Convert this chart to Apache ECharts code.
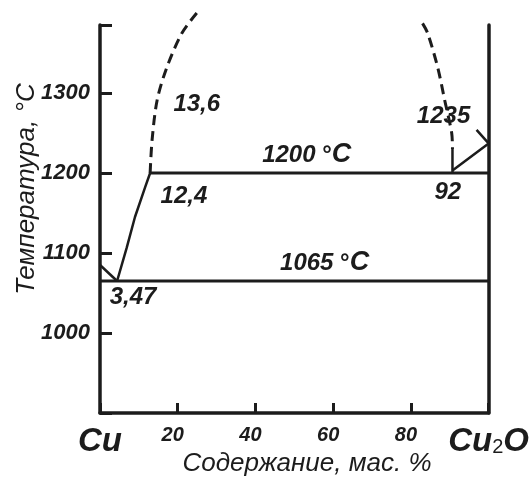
<!DOCTYPE html>
<html>
<head>
<meta charset="utf-8">
<script src="https://cdn.jsdelivr.net/npm/echarts@6/dist/echarts.min.js"></script>
<style>html,body{margin:0;padding:0;background:#fff}#c{width:532px;height:482px}</style>
</head>
<body>
<div id="c"></div>
<script>
// ---- data (x: mass % Cu2O, y: temperature, °C) ----
const xTickValues = [0, 20, 40, 60, 80, 100];
const yTickValues = [1000, 1100, 1200, 1300];
const xEndLabels = { 0: 'Cu', 100: 'Cu2O' };

const monotecticLine = [[12.9, 1200], [100, 1200]];
const eutecticLine = [[0, 1065], [100, 1065]];
const cuMeltLine = [[0, 1085], [4.4, 1065]];
const leftLiquidus = [[4.4, 1065], [6.9, 1107], [9.0, 1145], [11.6, 1182], [12.9, 1200]];
const leftMiscibility = [[12.9, 1200], [13.4, 1241], [14.7, 1291], [17.2, 1332], [21.1, 1375], [24.9, 1400]];
const rightMiscibility = [[83.0, 1387], [84.3, 1375], [86.9, 1332], [88.7, 1291], [90.5, 1250], [90.7, 1230]];
const rightSolidPart = [[90.7, 1230], [90.7, 1200]];
const cu2oMeltLine = [[90.7, 1203], [100, 1237], [96.9, 1254]];

const annotationTexts = ['13,6', '12,4', '1200 °C', '1235', '92', '1065 °C', '3,47'];
const annotationX = [24.9, 21.6, 53.2, 88.4, 89.5, 57.8, 8.5];
const annotationY = [1286, 1171, 1222.5, 1271, 1176, 1087.5, 1044];

// ---- chart ----
const FONT = "'Liberation Sans', Arial, sans-serif";
const INK = '#1c1c1c';
const chart = echarts.init(document.getElementById('c'));

function lineSeries(name, data, dashed, width) {
  return {
    name, type: 'line', data, symbol: 'none', clip: false, silent: true,
    smooth: dashed ? 0.3 : false,
    lineStyle: { color: INK, width: width || 2.5, type: dashed ? [10, 6] : 'solid' }
  };
}

function fmtAnnot(t) {
  if (t.indexOf('°') >= 0) {
    const p = t.split(' °');
    return '{t|' + p[0] + ' }{d|°}{c|' + p[1] + '}';
  }
  return '{t|' + t + '}';
}

const annotData = annotationTexts.map((t, i) => ({ value: [annotationX[i], annotationY[i]], label: { formatter: fmtAnnot(t) } }));

chart.setOption({
  animation: false,
  backgroundColor: '#fff',
  grid: { left: 100, right: 43, top: 25, bottom: 69 },
  xAxis: {
    type: 'value', min: 0, max: 100, interval: 20,
    axisLine: { lineStyle: { color: INK, width: 3.5 } },
    axisTick: { inside: true, length: 10, lineStyle: { color: INK, width: 3 } },
    splitLine: { show: false },
    axisLabel: {
      margin: 12,
      formatter: v => {
        if (v === 0) return '{big|' + xEndLabels[0] + '}';
        if (v === 100) return '{big|Cu}{sub|2}{big|O}';
        return '{n|' + v + '}';
      },
      rich: {
        n: { fontFamily: FONT, fontSize: 20, fontStyle: 'italic', fontWeight: 'bold', color: INK, padding: [0, 10, 0, 0] },
        big: { fontFamily: FONT, fontSize: 33, fontStyle: 'italic', fontWeight: 'bold', color: INK },
        sub: { fontFamily: FONT, fontSize: 20, fontWeight: 'normal', color: INK, padding: [12, 0, 0, 0] }
      }
    }
  },
  yAxis: [{
    type: 'value', min: 900, max: 1385, interval: 100,
    axisLine: { lineStyle: { color: INK, width: 3.5 } },
    axisTick: { inside: true, length: 12, lineStyle: { color: INK, width: 3 } },
    splitLine: { show: false },
    axisLabel: {
      margin: 10, color: INK, fontFamily: FONT, fontSize: 22, fontStyle: 'italic', fontWeight: 'bold',
      formatter: v => (yTickValues.indexOf(v) >= 0 ? String(v) : '')
    }
  }, {
    type: 'value', min: 900, max: 1385, position: 'right',
    axisLine: { show: true, lineStyle: { color: INK, width: 3.5 } },
    axisTick: { show: false }, axisLabel: { show: false }, splitLine: { show: false }
  }],
  graphic: [
    { type: 'text', x: 307, y: 464,
      style: { text: 'Содержание, мас. %', align: 'center', verticalAlign: 'middle',
        font: "italic 26px 'Liberation Sans', Arial, sans-serif", fill: INK } },
    { type: 'text', x: 27, y: 189, rotation: Math.PI / 2,
      style: { text: 'Температура, °C', align: 'center', verticalAlign: 'middle',
        font: "italic 26px 'Liberation Sans', Arial, sans-serif", fill: INK } }
  ],
  series: [
    lineSeries('monotectic', monotecticLine, false, 3),
    lineSeries('eutectic', eutecticLine, false, 3),
    lineSeries('cuMelt', cuMeltLine, false, 2.5),
    lineSeries('leftLiquidus', leftLiquidus, false, 2.5),
    lineSeries('leftMiscibility', leftMiscibility, true, 3),
    lineSeries('rightMiscibility', rightMiscibility, true, 3),
    lineSeries('rightSolid', rightSolidPart, false, 2.5),
    lineSeries('cu2oMelt', cu2oMeltLine, false, 2.5),
    {
      type: 'scatter', symbolSize: 0, silent: true, data: annotData,
      itemStyle: { opacity: 1, color: INK },
      label: {
        show: true, position: 'inside', opacity: 1,
        rich: {
          t: { fontFamily: FONT, fontSize: 24, fontStyle: 'italic', fontWeight: 'bold', color: INK },
          d: { fontFamily: FONT, fontSize: 24, fontWeight: 'bold', color: INK },
          c: { fontFamily: FONT, fontSize: 27, fontStyle: 'italic', fontWeight: 'bold', color: INK }
        }
      }
    }
  ]
});
</script>
</body>
</html>
